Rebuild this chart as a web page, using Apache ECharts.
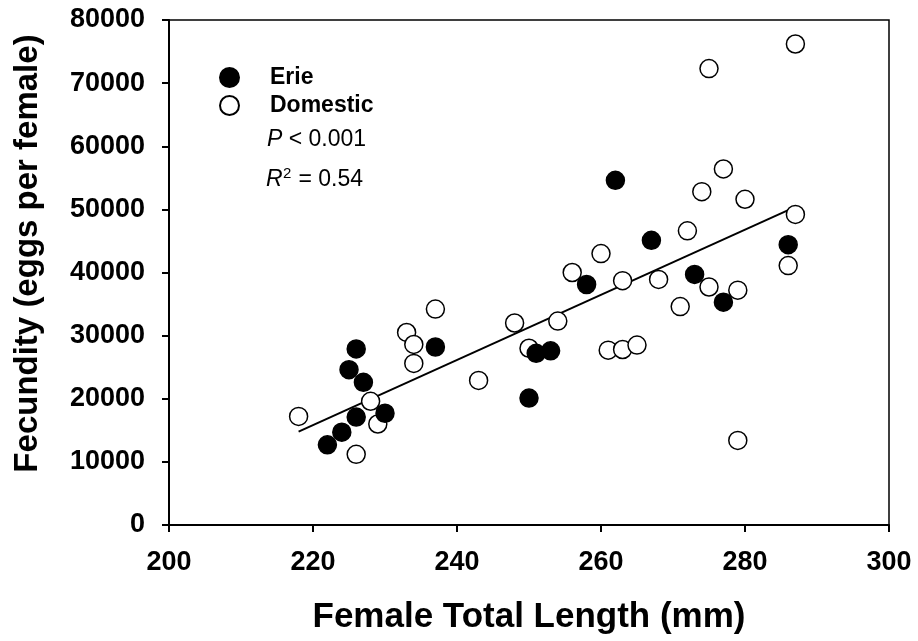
<!DOCTYPE html>
<html>
<head>
<meta charset="utf-8">
<script src="https://cdn.jsdelivr.net/npm/echarts@6/dist/echarts.min.js"></script>
<style>html,body{margin:0;padding:0;background:#fff}#c{width:918px;height:641px}</style>
</head>
<body>
<div id="c"></div>
<script>
// Erie females
var erieLength = [222, 224, 225, 226, 226, 227, 230, 237, 250, 251, 253, 258, 262, 267, 273, 277, 286];
var erieFecundity = [12700, 14700, 24600, 27900, 17100, 22600, 17700, 28200, 20100, 27200, 27600, 38100, 54600, 45100, 39700, 35300, 44400];
// Domestic females
var domLength = [218, 226, 228, 229, 233, 234, 234, 237, 243, 248, 250, 254, 256, 260, 261, 263, 263, 265, 268, 271, 272, 274, 275, 275, 277, 279, 279, 280, 286, 287, 287];
var domFecundity = [17200, 11200, 19600, 16000, 30500, 28600, 25600, 34200, 22900, 32000, 28000, 32300, 40000, 43000, 27700, 27800, 38700, 28500, 38900, 34600, 46600, 52800, 37700, 72300, 56400, 37200, 13400, 51600, 41100, 49200, 76200];
// Regression line end points
var fitLength = [218, 287];
var fitFecundity = [14800, 50400];
// Axis ticks
var xTicks = [200, 220, 240, 260, 280, 300];
var yTicks = [0, 10000, 20000, 30000, 40000, 50000, 60000, 70000, 80000];

function pairs(xs, ys) { return xs.map(function (x, i) { return [x, ys[i]]; }); }

var FONT = "'Liberation Sans', Arial, sans-serif";
var chart = echarts.init(document.getElementById('c'), null, { renderer: 'canvas' });
chart.setOption({
  animation: false,
  backgroundColor: '#fff',
  grid: { left: 169, right: 29, top: 20, bottom: 116, show: true, borderColor: '#000', borderWidth: 1.5, containLabel: false, outerBoundsMode: 'none' },
  legend: {
    data: ['Erie', 'Domestic'],
    orient: 'vertical',
    left: 214, top: 61,
    itemWidth: 19, itemHeight: 19, itemGap: 5,
    icon: 'circle',
    textStyle: { fontFamily: FONT, fontWeight: 'bold', fontSize: 23, color: '#000', padding: [0, 0, 0, 26] }
  },
  xAxis: {
    type: 'value', min: xTicks[0], max: xTicks[xTicks.length - 1], interval: 20,
    name: 'Female Total Length (mm)', nameLocation: 'middle', nameGap: 92,
    nameTextStyle: { fontFamily: FONT, fontWeight: 'bold', fontSize: 35, color: '#000', verticalAlign: 'middle' },
    axisLine: { show: true, onZero: false, lineStyle: { color: '#000', width: 2 } },
    axisTick: { show: true, inside: false, length: 7, lineStyle: { color: '#000', width: 2 } },
    axisLabel: { fontFamily: FONT, fontWeight: 'bold', fontSize: 27, color: '#000', margin: 24, formatter: function (v) { return String(v); } },
    splitLine: { show: false }
  },
  yAxis: {
    type: 'value', min: yTicks[0], max: yTicks[yTicks.length - 1], interval: 10000,
    name: 'Fecundity (eggs per female)', nameLocation: 'middle', nameGap: 141,
    nameTextStyle: { fontFamily: FONT, fontWeight: 'bold', fontSize: 33, color: '#000', verticalAlign: 'middle', padding: [0, 0, 0, 38] },
    axisLine: { show: true, onZero: false, lineStyle: { color: '#000', width: 2 } },
    axisTick: { show: true, inside: false, length: 7, lineStyle: { color: '#000', width: 2 } },
    axisLabel: { fontFamily: FONT, fontWeight: 'bold', fontSize: 27, color: '#000', margin: 24, formatter: function (v) { return String(v); } },
    splitLine: { show: false }
  },
  series: [
    {
      name: 'Fit', type: 'line', data: pairs(fitLength, fitFecundity), symbol: 'none',
      lineStyle: { color: '#000', width: 2 }, z: 1, silent: true
    },
    {
      name: 'Erie', type: 'scatter', data: pairs(erieLength, erieFecundity),
      symbol: 'circle', symbolSize: 18,
      itemStyle: { color: '#000', borderColor: '#000', borderWidth: 1.5, opacity: 1 }, z: 3
    },
    {
      name: 'Domestic', type: 'scatter', data: pairs(domLength, domFecundity),
      symbol: 'circle', symbolSize: 18,
      itemStyle: { color: '#fff', borderColor: '#000', borderWidth: 1.5, opacity: 1 }, z: 2
    }
  ],
  graphic: [
    {
      type: 'text', left: 267, top: 128,
      style: {
        text: '{i|P} < 0.001', fontFamily: FONT, fontSize: 23, fill: '#000',
        rich: { i: { fontStyle: 'italic', fontFamily: FONT, fontSize: 23, fill: '#000' } }
      }
    },
    { type: 'text', left: 266, top: 168, style: { text: 'R', fontFamily: FONT, fontStyle: 'italic', fontSize: 23, fill: '#000' } },
    { type: 'text', left: 283, top: 166, style: { text: '2', fontFamily: FONT, fontSize: 15, fill: '#000' } },
    { type: 'text', left: 292, top: 168, style: { text: ' = 0.54', fontFamily: FONT, fontSize: 23, fill: '#000' } }
  ]
});
</script>
</body>
</html>
